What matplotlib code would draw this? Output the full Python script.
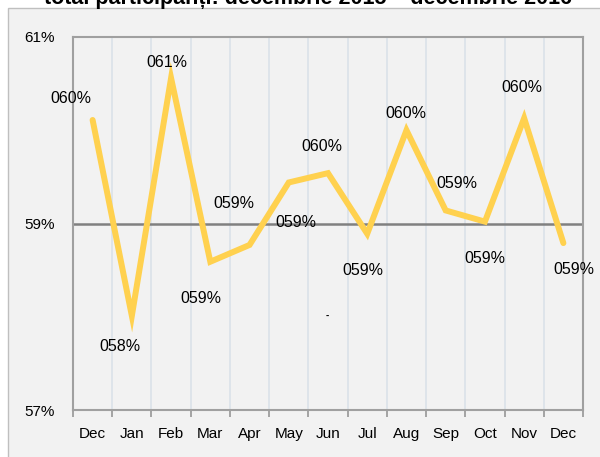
import matplotlib
matplotlib.use("Agg")
import matplotlib.pyplot as plt
from matplotlib.patches import Rectangle
from matplotlib.ticker import FixedLocator, NullFormatter

plt.rcParams['font.family'] = ['Liberation Sans', 'DejaVu Sans']

title = "total participanți: decembrie 2015 – decembrie 2016"
months = ["Dec", "Jan", "Feb", "Mar", "Apr", "May", "Jun",
          "Jul", "Aug", "Sep", "Oct", "Nov", "Dec"]
values = [60.11, 58.01, 60.56, 58.59, 58.77, 59.44, 59.54,
          58.89, 60.00, 59.14, 59.02, 60.13, 58.79]
# label offsets in pixels (dx, dy)
label_offsets = [(-22, 21), (-12, -31), (-4, 16), (-9, -37), (-16, 41), (7, -40), (-6, 27),
                 (-4, -37), (-1, 17), (11, 27), (0, -37), (-2, 31), (10, -26)]

fig = plt.figure(figsize=(6, 4.57), dpi=100)
fig.patch.set_facecolor('white')

# outer chart frame, partly cut by the picture edge
frame = Rectangle((7.5 / 600, -0.1), 1.2, 1.1 - 8.5 / 457, transform=fig.transFigure,
                  facecolor='#f2f2f2', edgecolor='#bfbfbf', linewidth=1.0, zorder=-5)
fig.patches.append(frame)

fig.text(0.514, 1 - 4 / 457, title, ha='center', va='baseline',
         fontsize=15.5, fontweight='bold', color='black')

ax = fig.add_axes([73 / 600, 1 - 410 / 457, 510 / 600, 373 / 457])
ax.set_facecolor('#f2f2f2')

x = list(range(len(values)))
ax.plot(x, values, color='#ffd14f', linewidth=4.3, solid_capstyle='round',
        solid_joinstyle='miter', zorder=3)

for xi, v, (dx, dy) in zip(x, values, label_offsets):
    ax.annotate("%03d%%" % round(v), (xi, v), xytext=(dx, dy), textcoords='offset pixels',
                ha='center', va='center', fontsize=11.5, color='black', zorder=4)

ax.set_xlim(-0.5, len(values) - 0.5)
ax.set_ylim(57, 61)
ax.set_yticks([57, 59, 61])
ax.set_yticklabels(["57%", "59%", "61%"])
ax.set_xticks(x)
ax.set_xticklabels(months)
ax.xaxis.set_minor_locator(FixedLocator([i - 0.5 for i in range(len(values) + 1)]))
ax.xaxis.set_minor_formatter(NullFormatter())

ax.tick_params(axis='x', which='major', length=0, pad=12, labelsize=11)
ax.tick_params(axis='x', which='minor', length=5, width=1.2, color='#969696', direction='out')
ax.tick_params(axis='y', which='major', length=0, pad=13, labelsize=11)

ax.grid(True, axis='x', which='minor', color='#dce3ea', linewidth=1.3, zorder=1)
ax.axhline(59, color='#808080', linewidth=1.8, zorder=2)

for side in ['left', 'bottom', 'top', 'right']:
    ax.spines[side].set_color('#a0a0a0')
    ax.spines[side].set_linewidth(1.5)

fig.text(327 / 600, 1 - 316 / 457, "-", fontsize=7, fontweight='bold',
         ha='center', va='center')

fig.savefig("out.png", dpi=100)
